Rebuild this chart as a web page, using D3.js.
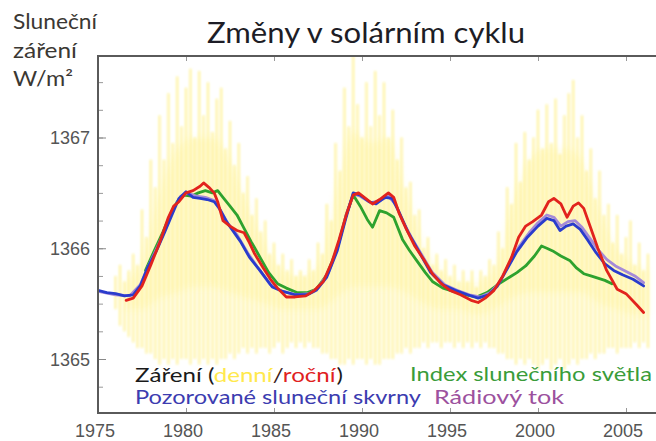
<!DOCTYPE html>
<html>
<head>
<meta charset="utf-8">
<script src="https://cdnjs.cloudflare.com/ajax/libs/d3/7.8.5/d3.min.js"></script>
<style>
  body { margin: 0; background: #fff; }
  svg { display: block; }
  .num { font-family: "Liberation Sans", Arial, sans-serif; font-size: 18px; fill: #555; }
  .cal { font-family: Lato, "Open Sans", sans-serif; }
</style>
</head>
<body>
<svg id="chart" width="656" height="441"></svg>
<script>
/* tick labels */
var xTicks = [1975, 1980, 1985, 1990, 1995, 2000, 2005];
var yTicks = [1365, 1366, 1367];

/* daily irradiance, shown as spikes: [year, low, high] */
var daily = [
  [1976.0, 1365.45, 1365.75], [1976.25, 1365.3, 1365.85], [1976.5, 1365.25, 1365.7], [1976.75, 1365.2, 1365.8],
  [1977.0, 1365.15, 1365.95], [1977.25, 1365.1, 1365.85], [1977.5, 1365.1, 1366.35], [1977.75, 1365.05, 1366.1],
  [1978.0, 1365.05, 1366.8], [1978.25, 1365.0, 1366.55], [1978.5, 1364.95, 1367.2], [1978.75, 1365.0, 1366.8],
  [1979.0, 1364.95, 1367.4], [1979.25, 1365.0, 1366.95], [1979.5, 1364.95, 1367.55], [1979.75, 1365.0, 1367.1],
  [1980.0, 1365.0, 1367.45], [1980.25, 1364.95, 1367.62], [1980.5, 1365.0, 1367.0], [1980.75, 1364.95, 1367.6],
  [1981.0, 1365.0, 1367.2], [1981.25, 1364.95, 1367.5], [1981.5, 1365.0, 1367.05], [1981.75, 1364.95, 1367.35],
  [1982.0, 1365.0, 1367.45], [1982.25, 1365.0, 1366.9], [1982.5, 1365.05, 1367.15], [1982.75, 1365.0, 1366.75],
  [1983.0, 1365.05, 1366.95], [1983.25, 1365.1, 1366.5], [1983.5, 1365.05, 1366.65], [1983.75, 1365.1, 1366.3],
  [1984.0, 1365.05, 1366.45], [1984.25, 1365.1, 1366.15], [1984.5, 1365.1, 1366.25], [1984.75, 1365.05, 1365.95],
  [1985.0, 1365.1, 1366.05], [1985.25, 1365.15, 1365.85], [1985.5, 1365.05, 1365.95], [1985.75, 1365.1, 1365.8],
  [1986.0, 1365.15, 1365.9], [1986.25, 1365.1, 1365.75], [1986.5, 1365.15, 1365.8], [1986.75, 1365.1, 1365.75],
  [1987.0, 1365.15, 1365.9], [1987.25, 1365.1, 1365.8], [1987.5, 1365.1, 1366.05], [1987.75, 1365.05, 1365.95],
  [1988.0, 1365.05, 1366.4], [1988.25, 1365.0, 1366.25], [1988.5, 1365.0, 1366.95], [1988.75, 1364.95, 1366.7],
  [1989.0, 1364.95, 1367.45], [1989.25, 1365.0, 1367.1], [1989.5, 1364.95, 1367.74], [1989.75, 1365.0, 1367.3],
  [1990.0, 1365.0, 1367.0], [1990.25, 1364.95, 1367.5], [1990.5, 1365.0, 1367.1], [1990.75, 1364.95, 1367.6],
  [1991.0, 1364.95, 1367.2], [1991.25, 1365.0, 1367.5], [1991.5, 1365.0, 1367.0], [1991.75, 1365.0, 1367.25],
  [1992.0, 1365.05, 1366.8], [1992.25, 1365.05, 1367.0], [1992.5, 1365.1, 1366.55], [1992.75, 1365.05, 1366.6],
  [1993.0, 1365.1, 1366.3], [1993.25, 1365.1, 1366.35], [1993.5, 1365.15, 1366.0], [1993.75, 1365.1, 1366.1],
  [1994.0, 1365.15, 1365.85], [1994.25, 1365.15, 1365.95], [1994.5, 1365.1, 1365.8], [1994.75, 1365.15, 1365.9],
  [1995.0, 1365.15, 1365.75], [1995.25, 1365.1, 1365.85], [1995.5, 1365.15, 1365.7], [1995.75, 1365.1, 1365.8],
  [1996.0, 1365.15, 1365.7], [1996.25, 1365.1, 1365.8], [1996.5, 1365.15, 1365.65], [1996.75, 1365.1, 1365.8],
  [1997.0, 1365.15, 1365.75], [1997.25, 1365.1, 1365.9], [1997.5, 1365.1, 1365.85], [1997.75, 1365.05, 1366.15],
  [1998.0, 1365.05, 1366.0], [1998.25, 1365.0, 1366.55], [1998.5, 1365.0, 1366.4], [1998.75, 1364.95, 1366.95],
  [1999.0, 1365.0, 1366.6], [1999.25, 1364.95, 1367.05], [1999.5, 1365.0, 1366.8], [1999.75, 1364.95, 1367.0],
  [2000.0, 1364.9, 1367.25], [2000.25, 1364.95, 1366.9], [2000.5, 1365.0, 1367.3], [2000.75, 1364.9, 1366.95],
  [2001.0, 1364.95, 1367.35], [2001.25, 1365.0, 1366.85], [2001.5, 1364.9, 1367.2], [2001.75, 1364.95, 1367.4],
  [2002.0, 1365.0, 1367.52], [2002.25, 1364.95, 1367.0], [2002.5, 1365.0, 1367.2], [2002.75, 1365.0, 1366.7],
  [2003.0, 1365.05, 1366.9], [2003.25, 1365.0, 1366.45], [2003.5, 1365.05, 1366.7], [2003.75, 1365.05, 1366.3],
  [2004.0, 1365.1, 1366.4], [2004.25, 1365.1, 1366.05], [2004.5, 1365.05, 1366.3], [2004.75, 1365.1, 1365.95],
  [2005.0, 1365.1, 1366.1], [2005.25, 1365.1, 1366.25], [2005.5, 1365.15, 1365.85], [2005.75, 1365.1, 1366.05],
  [2006.0, 1365.15, 1365.8], [2006.25, 1365.1, 1365.95]
];

/* denser part of the daily scatter: [year, low, high] */
var dailyCore = [
  [1976.5, 1365.45, 1365.7], [1977.5, 1365.45, 1365.9], [1978.5, 1365.55, 1366.5], [1979.5, 1365.6, 1366.9],
  [1980.5, 1365.65, 1367.0], [1981.5, 1365.65, 1367.0], [1982.5, 1365.6, 1366.8], [1983.5, 1365.55, 1366.4],
  [1984.5, 1365.5, 1366.05], [1985.5, 1365.45, 1365.8], [1986.5, 1365.45, 1365.75], [1987.5, 1365.45, 1365.85],
  [1988.5, 1365.55, 1366.5], [1989.5, 1365.65, 1367.05], [1990.5, 1365.65, 1366.95], [1991.5, 1365.65, 1367.0],
  [1992.5, 1365.6, 1366.5], [1993.5, 1365.5, 1366.05], [1994.5, 1365.45, 1365.8], [1995.5, 1365.45, 1365.7],
  [1996.5, 1365.4, 1365.7], [1997.5, 1365.45, 1365.8], [1998.5, 1365.55, 1366.4], [1999.5, 1365.6, 1366.8],
  [2000.5, 1365.6, 1366.9], [2001.5, 1365.6, 1366.9], [2002.5, 1365.6, 1366.8], [2003.5, 1365.5, 1366.35],
  [2004.5, 1365.45, 1366.0], [2005.5, 1365.4, 1365.85], [2006.25, 1365.4, 1365.8]
];

/* annual irradiance (red) */
var annual = [
  [1976.6, 1365.53], [1977.0, 1365.55], [1977.5, 1365.66], [1978.0, 1365.85], [1978.5, 1366.05],
  [1979.0, 1366.28], [1979.3, 1366.38], [1979.6, 1366.42], [1980.0, 1366.50], [1980.4, 1366.52],
  [1980.8, 1366.56], [1981.0, 1366.59], [1981.3, 1366.55], [1981.6, 1366.50], [1981.8, 1366.42],
  [1982.1, 1366.25], [1982.5, 1366.20], [1982.9, 1366.16], [1983.3, 1366.14], [1983.6, 1366.05],
  [1983.9, 1365.95], [1984.4, 1365.82], [1984.8, 1365.72], [1985.2, 1365.64], [1985.7, 1365.56],
  [1986.2, 1365.56], [1986.8, 1365.57], [1987.3, 1365.62], [1987.8, 1365.70], [1988.3, 1365.88],
  [1988.7, 1366.08], [1989.1, 1366.30], [1989.5, 1366.48], [1989.8, 1366.50], [1990.2, 1366.45],
  [1990.6, 1366.40], [1991.0, 1366.44], [1991.5, 1366.50], [1991.8, 1366.46], [1992.1, 1366.32],
  [1992.5, 1366.18], [1993.0, 1366.02], [1993.5, 1365.90], [1994.0, 1365.77], [1994.5, 1365.68],
  [1995.0, 1365.62], [1995.6, 1365.58], [1996.2, 1365.53], [1996.6, 1365.51], [1997.0, 1365.55],
  [1997.5, 1365.62], [1998.0, 1365.75], [1998.5, 1365.92], [1998.9, 1366.10], [1999.3, 1366.20],
  [1999.7, 1366.24], [2000.2, 1366.30], [2000.6, 1366.42], [2000.9, 1366.45], [2001.3, 1366.40],
  [2001.65, 1366.28], [2002.0, 1366.38], [2002.3, 1366.41], [2002.6, 1366.36], [2003.0, 1366.18],
  [2003.4, 1366.00], [2003.9, 1365.80], [2004.5, 1365.63], [2005.0, 1365.59], [2005.6, 1365.49],
  [2006.0, 1365.42]
];

/* observed sunspots model (blue) */
var sunspots = [
  [1975.0, 1365.62], [1975.5, 1365.60], [1976.0, 1365.59], [1976.5, 1365.57], [1977.0, 1365.58],
  [1977.4, 1365.66], [1977.8, 1365.82], [1978.3, 1365.97], [1978.8, 1366.15], [1979.2, 1366.30],
  [1979.6, 1366.45], [1980.0, 1366.51], [1980.4, 1366.46], [1980.8, 1366.45], [1981.2, 1366.44],
  [1981.6, 1366.42], [1981.9, 1366.36], [1982.3, 1366.24], [1982.7, 1366.15], [1983.1, 1366.06],
  [1983.6, 1365.92], [1984.2, 1365.80], [1984.9, 1365.65], [1985.5, 1365.61], [1986.2, 1365.58],
  [1986.9, 1365.58], [1987.4, 1365.62], [1988.0, 1365.74], [1988.6, 1365.98], [1989.1, 1366.28],
  [1989.5, 1366.50], [1989.9, 1366.48], [1990.4, 1366.42], [1990.8, 1366.40], [1991.3, 1366.46],
  [1991.7, 1366.45], [1992.1, 1366.33], [1992.6, 1366.15], [1993.2, 1365.98], [1993.9, 1365.78],
  [1994.6, 1365.67], [1995.3, 1365.62], [1996.0, 1365.58], [1996.6, 1365.55], [1997.2, 1365.58],
  [1997.7, 1365.66], [1998.2, 1365.80], [1998.8, 1365.97], [1999.4, 1366.10], [2000.0, 1366.20],
  [2000.5, 1366.27], [2000.9, 1366.25], [2001.25, 1366.16], [2001.6, 1366.20], [2002.0, 1366.22],
  [2002.4, 1366.17], [2002.8, 1366.08], [2003.3, 1365.96], [2003.8, 1365.86], [2004.3, 1365.80],
  [2004.8, 1365.76], [2005.4, 1365.72], [2006.0, 1365.66]
];

/* radio flux model (purple) */
var radioFlux = [
  [1975.0, 1365.61], [1976.0, 1365.58], [1976.8, 1365.57], [1977.4, 1365.67], [1977.9, 1365.85],
  [1978.4, 1366.02], [1978.9, 1366.20], [1979.3, 1366.36], [1979.7, 1366.47], [1980.1, 1366.50],
  [1980.6, 1366.47], [1981.1, 1366.46], [1981.6, 1366.43], [1982.0, 1366.33], [1982.4, 1366.22],
  [1982.9, 1366.12], [1983.5, 1365.96], [1984.1, 1365.82], [1984.8, 1365.67], [1985.5, 1365.61],
  [1986.3, 1365.58], [1987.0, 1365.59], [1987.5, 1365.64], [1988.1, 1365.78], [1988.6, 1366.00],
  [1989.1, 1366.30], [1989.5, 1366.49], [1989.9, 1366.47], [1990.5, 1366.41], [1991.0, 1366.43],
  [1991.5, 1366.47], [1991.9, 1366.40], [1992.3, 1366.25], [1992.8, 1366.10], [1993.4, 1365.94],
  [1994.0, 1365.78], [1994.7, 1365.67], [1995.4, 1365.62], [1996.1, 1365.58], [1996.7, 1365.56],
  [1997.3, 1365.60], [1997.8, 1365.69], [1998.3, 1365.84], [1998.9, 1366.01], [1999.5, 1366.14],
  [2000.0, 1366.23], [2000.5, 1366.30], [2000.9, 1366.28], [2001.3, 1366.20], [2001.7, 1366.24],
  [2002.1, 1366.25], [2002.5, 1366.19], [2002.9, 1366.10], [2003.4, 1365.99], [2003.9, 1365.90],
  [2004.4, 1365.84], [2004.9, 1365.80], [2005.5, 1365.75], [2006.0, 1365.69]
];

/* facular (sunlight) index model (green) */
var facular = [
  [1977.7, 1365.80], [1978.2, 1365.98], [1978.7, 1366.15], [1979.1, 1366.30], [1979.5, 1366.42],
  [1979.9, 1366.48], [1980.3, 1366.47], [1980.7, 1366.50], [1981.1, 1366.52], [1981.5, 1366.50],
  [1981.8, 1366.52], [1982.1, 1366.46], [1982.5, 1366.38], [1982.9, 1366.30], [1983.3, 1366.18],
  [1983.7, 1366.06], [1984.2, 1365.92], [1984.7, 1365.78], [1985.2, 1365.68], [1985.7, 1365.64],
  [1986.3, 1365.60], [1986.9, 1365.60], [1987.4, 1365.63], [1988.0, 1365.76], [1988.6, 1366.00],
  [1989.1, 1366.30], [1989.5, 1366.48], [1989.9, 1366.38], [1990.3, 1366.26], [1990.6, 1366.19],
  [1991.0, 1366.34], [1991.4, 1366.32], [1991.8, 1366.28], [1992.3, 1366.08], [1992.7, 1365.98],
  [1993.1, 1365.89], [1993.6, 1365.78], [1994.0, 1365.70], [1994.6, 1365.64], [1995.2, 1365.61],
  [1995.9, 1365.58], [1996.5, 1365.56], [1997.1, 1365.60], [1997.8, 1365.68], [1998.4, 1365.74],
  [1998.8, 1365.78], [1999.3, 1365.84], [1999.8, 1365.93], [2000.2, 1366.02], [2000.5, 1366.00],
  [2000.9, 1365.97], [2001.3, 1365.93], [2001.8, 1365.89], [2002.2, 1365.82], [2002.6, 1365.77],
  [2003.0, 1365.75], [2003.4, 1365.73], [2003.8, 1365.71], [2004.2, 1365.68]
];

var svg = d3.select("#chart");

/* plot frame: left edge at 1975, right edge runs off the picture */
var frame = {left: 98, top: 56, right: 662, bottom: 413};

var x = d3.scaleLinear()
    .domain([1975, 2005])
    .range([frame.left, 626]);

var y = d3.scaleLinear()
    .domain([1365, 1367])
    .range([359, 137.5]);

svg.append("clipPath")
    .attr("id", "plot-clip")
  .append("rect")
    .attr("x", frame.left)
    .attr("y", frame.top)
    .attr("width", frame.right - frame.left)
    .attr("height", frame.bottom - frame.top);

var blur = svg.append("filter").attr("id", "soft");
blur.append("feGaussianBlur").attr("stdDeviation", 0.8);

var glow = svg.append("filter").attr("id", "glow")
    .attr("x", "-20%").attr("width", "140%");
glow.append("feGaussianBlur").attr("stdDeviation", 3);

var plot = svg.append("g").attr("clip-path", "url(#plot-clip)");

/* soft glow where the daily values crowd together */
plot.append("path")
    .datum(dailyCore)
    .attr("filter", "url(#glow)")
    .attr("fill", "#ffe84a")
    .attr("fill-opacity", 0.13)
    .attr("d", d3.area()
        .curve(d3.curveMonotoneX)
        .x(function(d) { return x(d[0]); })
        .y0(function(d) { return y(d[1]); })
        .y1(function(d) { return y(d[2]); }));

/* daily spikes */
plot.append("g")
    .attr("filter", "url(#soft)")
  .selectAll("line")
  .data(daily)
  .join("line")
    .attr("x1", function(d) { return x(d[0]); })
    .attr("x2", function(d) { return x(d[0]); })
    .attr("y1", function(d) { return y(d[1]); })
    .attr("y2", function(d) { return y(d[2]); })
    .attr("stroke", "#ffe01a")
    .attr("stroke-opacity", 0.4)
    .attr("stroke-width", 2.2);

var line = d3.line()
    .x(function(d) { return x(d[0]); })
    .y(function(d) { return y(d[1]); });

var series = [
  {data: facular, color: "#2ea22e"},
  {data: radioFlux, color: "#a58ad8"},
  {data: sunspots, color: "#2a3ccc"},
  {data: annual, color: "#e2231d"}
];

series.forEach(function(s) {
  plot.append("path")
      .datum(s.data)
      .attr("fill", "none")
      .attr("stroke", s.color)
      .attr("stroke-width", 2.8)
      .attr("stroke-linejoin", "round")
      .attr("stroke-linecap", "round")
      .attr("d", line);
});

/* axes: ticks point inward */
var yMinor = d3.range(1364.75, 1367.75, 0.25);

svg.append("g")
    .attr("transform", "translate(" + frame.left + ",0)")
    .call(d3.axisRight(y).tickValues(yMinor).tickSize(5).tickFormat(""))
    .call(function(g) { g.select(".domain").remove(); })
    .call(function(g) { g.selectAll("line").attr("stroke", "#999"); });

svg.append("g")
    .attr("transform", "translate(" + frame.left + ",0)")
    .call(d3.axisRight(y).tickValues(yTicks).tickSize(8).tickFormat(""))
    .call(function(g) { g.select(".domain").remove(); })
    .call(function(g) { g.selectAll("line").attr("stroke", "#888"); });

svg.append("g")
    .attr("transform", "translate(0," + frame.top + ")")
    .call(d3.axisBottom(x).tickValues(xTicks.slice(1)).tickSize(5).tickFormat(""))
    .call(function(g) { g.select(".domain").remove(); })
    .call(function(g) { g.selectAll("line").attr("stroke", "#999"); });

svg.append("g")
    .attr("transform", "translate(0," + frame.bottom + ")")
    .call(d3.axisTop(x).tickValues(xTicks.slice(1)).tickSize(5).tickFormat(""))
    .call(function(g) { g.select(".domain").remove(); })
    .call(function(g) { g.selectAll("line").attr("stroke", "#999"); });

/* frame lines */
svg.append("path")
    .attr("d", "M" + frame.right + "," + frame.top + "H" + frame.left + "V" + frame.bottom + "H" + frame.right)
    .attr("fill", "none")
    .attr("stroke", "#5a5a5a")
    .attr("stroke-width", 2);

/* tick labels */
svg.append("g").selectAll("text")
  .data(yTicks)
  .join("text")
    .attr("class", "num")
    .attr("x", 90)
    .attr("y", function(d) { return y(d) + 6.5; })
    .attr("text-anchor", "end")
    .text(function(d) { return d; });

svg.append("g").selectAll("text")
  .data(xTicks)
  .join("text")
    .attr("class", "num")
    .attr("x", function(d) { return x(d) - 3; })
    .attr("y", 437)
    .attr("text-anchor", "middle")
    .text(function(d) { return d; });

/* title and unit label */
svg.append("text")
    .attr("class", "cal")
    .attr("x", 207)
    .attr("y", 43)
    .attr("textLength", 318)
    .attr("lengthAdjust", "spacingAndGlyphs")
    .style("font-size", "29px")
    .attr("fill", "#1d1d26")
    .text("Změny v solárním cyklu");

var unitLines = [["Sluneční", 84], ["záření", 64], ["W/m²", 60]];
svg.append("g").selectAll("text")
  .data(unitLines)
  .join("text")
    .attr("class", "cal")
    .attr("x", 13)
    .attr("y", function(d, i) { return 29 + i * 28.5; })
    .attr("textLength", function(d) { return d[1]; })
    .attr("lengthAdjust", "spacingAndGlyphs")
    .style("font-size", "21px")
    .attr("fill", "#3b3833")
    .text(function(d) { return d[0]; });

/* legend */
function legendText(xp, yp, len, parts) {
  var t = svg.append("text")
      .attr("class", "cal")
      .attr("x", xp)
      .attr("y", yp)
      .attr("textLength", len)
      .attr("lengthAdjust", "spacingAndGlyphs")
      .style("font-size", "20px");
  parts.forEach(function(p) {
    t.append("tspan").attr("fill", p[1]).text(p[0]);
  });
}

legendText(135, 382, 208, [["Záření (", "#1a1a1a"], ["denní", "#ffe94d"], ["/", "#3a1a1a"], ["roční", "#e0221e"], [")", "#1a1a1a"]]);
legendText(410, 381, 242, [["Index slunečního světla", "#3a9c3a"]]);
legendText(135, 404, 286, [["Pozorované sluneční skvrny", "#3c3cb0"]]);
legendText(434, 404, 130, [["Rádiový tok", "#9c519e"]]);
</script>
</body>
</html>
